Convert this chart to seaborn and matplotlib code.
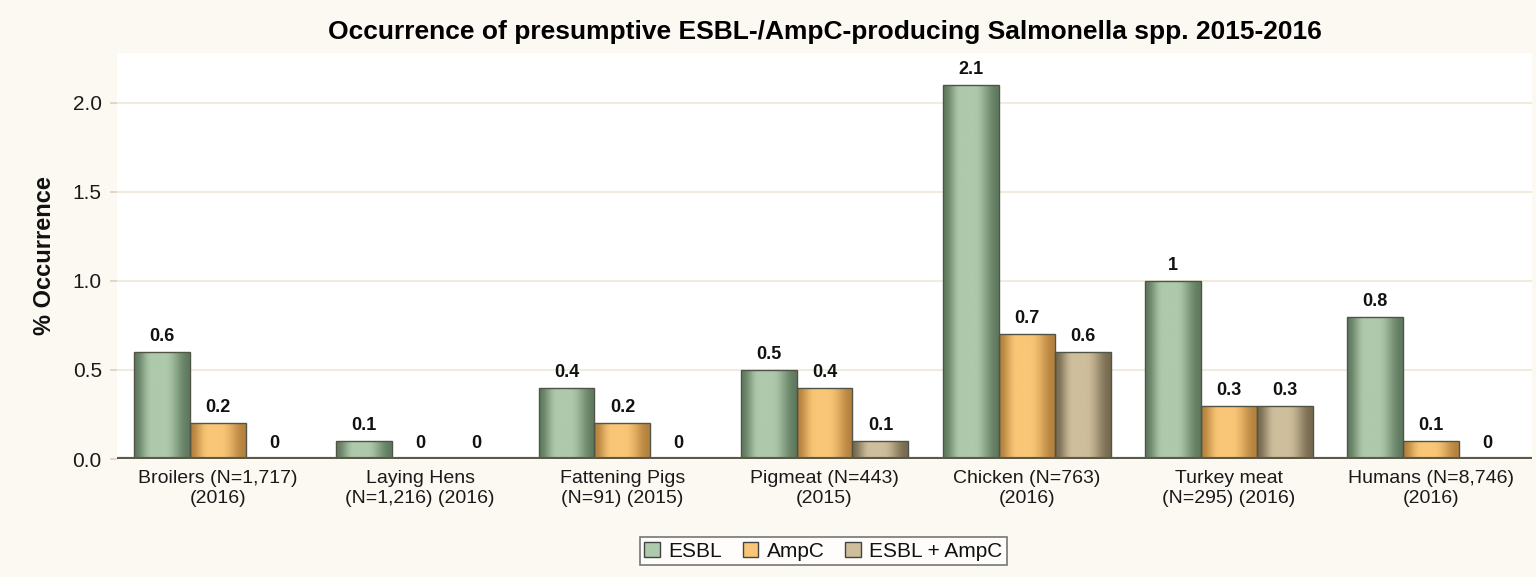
import matplotlib
matplotlib.use("Agg")
import matplotlib.pyplot as plt
import matplotlib.colors as mcolors
from matplotlib.patches import Patch
import seaborn as sns
import numpy as np
import pandas as pd

# data
categories = ["Broilers (N=1,717)\n(2016)", "Laying Hens\n(N=1,216) (2016)",
              "Fattening Pigs\n(N=91) (2015)", "Pigmeat (N=443)\n(2015)",
              "Chicken (N=763)\n(2016)", "Turkey meat\n(N=295) (2016)",
              "Humans (N=8,746)\n(2016)"]
series = ["ESBL", "AmpC", "ESBL + AmpC"]
esbl = [0.6, 0.1, 0.4, 0.5, 2.1, 1, 0.8]
ampc = [0.2, 0, 0.2, 0.4, 0.7, 0.3, 0.1]
both = [0, 0, 0, 0.1, 0.6, 0.3, 0]

# (edge colour, centre colour) for the shaded bars
shades = {"ESBL": ("#5f7a5e", "#aec9ab"),
          "AmpC": ("#b5823e", "#f9c677"),
          "ESBL + AmpC": ("#776a4f", "#cebe9c")}

df = pd.DataFrame({
    "cat": categories * 3,
    "type": np.repeat(series, len(categories)),
    "val": esbl + ampc + both,
})

sns.set_theme(style="white")
plt.rcParams["font.family"] = ["Liberation Sans", "DejaVu Sans"]
plt.rcParams["text.color"] = "#111111"
plt.rcParams["axes.labelcolor"] = "#111111"
plt.rcParams["xtick.color"] = "#1a1a1a"
plt.rcParams["ytick.color"] = "#1a1a1a"

fig = plt.figure(figsize=(15.36, 5.77), dpi=100, facecolor="#fcf9f2")
ax = fig.add_axes([0.0762, 0.2045, 0.9212, 0.7035])
ax.set_facecolor("white")

sns.barplot(data=df, x="cat", y="val", hue="type", hue_order=series,
            order=categories, palette=[shades[s][1] for s in series],
            width=0.83, legend=False, ax=ax)

ax.yaxis.grid(True, color="#f0ebdc", lw=1.5)
ax.set_axisbelow(True)
for sp in ax.spines.values():
    sp.set_visible(False)

# gradient fill per bar: dark at both sides, light band a bit left of centre
t = np.linspace(0, 1, 100)
prof = np.clip(np.minimum(t / 0.32, (1 - t) / 0.45), 0, 1)
prof = 0.5 - 0.5 * np.cos(np.pi * prof)
for cont, s in zip(ax.containers, series):
    edge, centre = (np.array(mcolors.to_rgb(c)) for c in shades[s])
    img = edge[None, :] * (1 - prof[:, None]) + centre[None, :] * prof[:, None]
    img = img[None, :, :]
    for p in cont.patches:
        h = p.get_height()
        if h <= 0:
            continue
        x0 = p.get_x()
        w = p.get_width()
        im = ax.imshow(img, extent=[x0, x0 + w, 0, h], aspect="auto",
                       zorder=1.5, interpolation="bilinear")
        im.set_clip_path(p)
        p.set_facecolor("none")
        p.set_edgecolor("#505446")
        p.set_linewidth(1.0)
        p.set_zorder(2)
    vals = [v for v in df[df["type"] == s]["val"]]
    ax.bar_label(cont, labels=[f"{v:g}" for v in vals], padding=5,
                 fontsize=13, fontweight="bold", color="#111111")

ax.set_ylim(0, 2.28)
ax.set_xlim(-0.5, len(categories) - 0.5)
ax.set_yticks([0, 0.5, 1.0, 1.5, 2.0])
ax.set_yticklabels(["0.0", "0.5", "1.0", "1.5", "2.0"])
ax.axhline(0, color="#5d5948", lw=3, zorder=3)

ax.set_xlabel("")
ax.set_ylabel("% Occurrence", fontsize=17, fontweight="bold", labelpad=12)
ax.tick_params(axis="x", labelsize=14, length=0, pad=8)
ax.tick_params(axis="y", labelsize=15, length=5, color="#d9d4c4", left=True, pad=6)

ax.set_title("Occurrence of presumptive ESBL-/AmpC-producing Salmonella spp. 2015-2016",
             fontsize=19, fontweight="bold", pad=10, color="black")

handles = [Patch(facecolor=shades[s][1], edgecolor="#444444", label=s) for s in series]
leg = fig.legend(handles=handles, loc="center", bbox_to_anchor=(0.536, 0.045),
                 ncol=3, fontsize=15, frameon=True, fancybox=False,
                 handlelength=0.75, handleheight=0.75, handletextpad=0.4,
                 columnspacing=1.0, borderpad=0.2)
leg.get_frame().set_edgecolor("#555555")
leg.get_frame().set_linewidth(1.2)

fig.savefig("out.png", dpi=100, facecolor=fig.get_facecolor())
